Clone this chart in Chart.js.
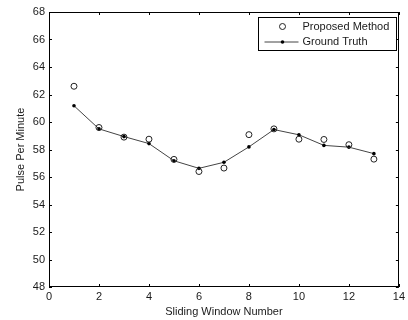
<!DOCTYPE html>
<html>
<head>
<meta charset="utf-8">
<script src="https://cdn.jsdelivr.net/npm/chart.js@4"></script>
<style>
  html, body { margin: 0; padding: 0; background: #fff; }
  #wrap { width: 408px; height: 320px; }
</style>
</head>
<body>
<div id="wrap"><canvas id="pulseChart"></canvas></div>
<script>
// valores
const windowNumbers = [1, 2, 3, 4, 5, 6, 7, 8, 9, 10, 11, 12, 13];
const proposedBpm = [62.6, 59.6, 58.9, 58.75, 57.28, 56.4, 56.65, 59.08, 59.5, 58.75, 58.73, 58.35, 57.3];
const groundTruthBpm = [61.18, 59.5, 58.94, 58.43, 57.18, 56.63, 57.07, 58.19, 59.45, 59.07, 58.3, 58.17, 57.7];
const xTickValues = [0, 2, 4, 6, 8, 10, 12, 14];
const yTickValues = [48, 50, 52, 54, 56, 58, 60, 62, 64, 66, 68];

const textColor = "#1a1a1a";
const fontFamily = "'Liberation Sans', Arial, sans-serif";

// marco y marcas hacia adentro, estilo MATLAB
const boxTicks = {
    id: "boxTicks",
    afterDatasetsDraw(chart) {
        const { ctx, chartArea: a, scales } = chart;
        const len = 3;
        ctx.save();
        ctx.strokeStyle = "#000";
        ctx.lineWidth = 1;
        ctx.beginPath();
        scales.x.ticks.forEach(t => {
            const px = Math.round(scales.x.getPixelForValue(t.value)) + 0.5;
            ctx.moveTo(px, a.bottom);
            ctx.lineTo(px, a.bottom - len);
            ctx.moveTo(px, a.top);
            ctx.lineTo(px, a.top + len);
        });
        scales.y.ticks.forEach(t => {
            const py = Math.round(scales.y.getPixelForValue(t.value)) + 0.5;
            ctx.moveTo(a.left, py);
            ctx.lineTo(a.left + len, py);
            ctx.moveTo(a.right, py);
            ctx.lineTo(a.right - len, py);
        });
        ctx.stroke();
        ctx.strokeRect(Math.round(a.left) + 0.5, Math.round(a.top) + 0.5,
            Math.round(a.right - a.left) - 1, Math.round(a.bottom - a.top) - 1);
        ctx.restore();
    }
};

// leyenda dentro del área, arriba a la derecha
const boxLegend = {
    id: "boxLegend",
    afterDraw(chart) {
        const { ctx, chartArea: a } = chart;
        const ds = chart.data.datasets;
        const w = 138, h = 33;
        const x0 = Math.round(a.right - 3 - w) + 0.5;
        const y0 = Math.round(a.top + 5) + 0.5;
        ctx.save();
        ctx.fillStyle = "#fff";
        ctx.fillRect(x0, y0, w, h);
        ctx.strokeStyle = "#000";
        ctx.lineWidth = 1;
        ctx.strokeRect(x0, y0, w, h);

        const symX = x0 + 24;
        const row1 = y0 + 9;
        const row2 = y0 + 24.5;

        ctx.strokeStyle = "#222";
        ctx.beginPath();
        ctx.arc(symX, row1, 3, 0, Math.PI * 2);
        ctx.stroke();

        ctx.strokeStyle = "#444";
        ctx.beginPath();
        ctx.moveTo(x0 + 6, row2);
        ctx.lineTo(x0 + 40, row2);
        ctx.stroke();
        ctx.fillStyle = "#000";
        ctx.beginPath();
        ctx.arc(symX, row2, 1.8, 0, Math.PI * 2);
        ctx.fill();

        ctx.fillStyle = textColor;
        ctx.font = "11px " + fontFamily;
        ctx.textBaseline = "middle";
        ctx.textAlign = "left";
        ctx.fillText(ds[0].label, x0 + 44, row1);
        ctx.fillText(ds[1].label, x0 + 44, row2);
        ctx.restore();
    }
};

new Chart(document.getElementById("pulseChart"), {
    type: "line",
    data: {
        datasets: [
            {
                label: "Proposed Method",
                data: windowNumbers.map((n, i) => ({ x: n, y: proposedBpm[i] })),
                showLine: false,
                pointStyle: "circle",
                pointRadius: 3,
                pointBorderWidth: 1,
                pointBorderColor: "#222",
                pointBackgroundColor: "rgba(0,0,0,0)"
            },
            {
                label: "Ground Truth",
                data: windowNumbers.map((n, i) => ({ x: n, y: groundTruthBpm[i] })),
                borderColor: "#444",
                borderWidth: 1,
                tension: 0,
                fill: false,
                pointRadius: 1.8,
                pointBorderWidth: 0,
                pointBackgroundColor: "#000"
            }
        ]
    },
    options: {
        responsive: true,
        maintainAspectRatio: false,
        animation: false,
        layout: { padding: { left: 0, top: 12, right: 9, bottom: 0 } },
        plugins: {
            legend: { display: false },
            tooltip: { enabled: false }
        },
        scales: {
            x: {
                type: "linear",
                min: 0,
                max: 14,
                afterBuildTicks: s => { s.ticks = xTickValues.map(v => ({ value: v })); },
                afterFit: s => { s.height = 33; },
                grid: { display: false, drawTicks: false },
                border: { display: false },
                ticks: { color: textColor, padding: 3, font: { size: 11, family: fontFamily } },
                title: {
                    display: true,
                    text: "Sliding Window Number",
                    color: textColor,
                    padding: { top: 0, bottom: 1 },
                    font: { size: 11, family: fontFamily }
                }
            },
            y: {
                min: 48,
                max: 68,
                afterBuildTicks: s => { s.ticks = yTickValues.map(v => ({ value: v })); },
                afterFit: s => { s.width = 49; },
                grid: { display: false, drawTicks: false },
                border: { display: false },
                ticks: { color: textColor, padding: 4, font: { size: 11, family: fontFamily } },
                title: {
                    display: true,
                    text: "Pulse Per Minute",
                    color: textColor,
                    padding: { top: 14, bottom: 0 },
                    font: { size: 11, family: fontFamily }
                }
            }
        }
    },
    plugins: [boxTicks, boxLegend]
});
</script>
</body>
</html>
